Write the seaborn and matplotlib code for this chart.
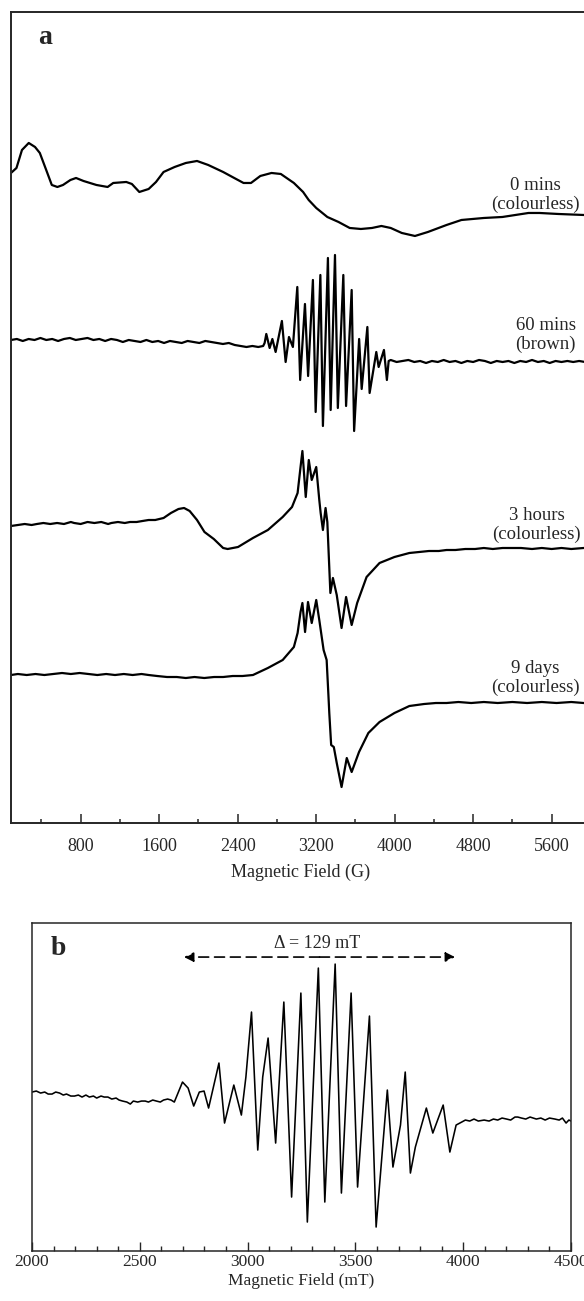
import matplotlib
matplotlib.use("Agg")
import matplotlib.pyplot as plt
from matplotlib.ticker import MultipleLocator
import pandas as pd
import seaborn as sns

# ---- panel a : EPR spectra (field in G, signal in arbitrary units) ----
trace_0min = [(90, 12), (146, 17), (202, 35), (271, 42), (335, 38), (384, 32), (449, 15),
              (506, 0), (563, -2), (620, 0), (696, 5), (753, 7), (829, 4), (961, 0),
              (1075, -2), (1132, 2), (1265, 3), (1322, 1), (1398, -7), (1493, -4),
              (1568, 3), (1645, 13), (1758, 18), (1872, 22), (1986, 24), (2100, 20),
              (2252, 13), (2365, 7), (2460, 2), (2536, 2), (2631, 9), (2745, 12),
              (2840, 11), (2973, 2), (3067, -7), (3124, -15), (3201, -23), (3314, -32),
              (3428, -37), (3542, -43), (3656, -44), (3769, -43), (3865, -41), (3960, -43),
              (4073, -48), (4207, -51), (4339, -47), (4529, -40), (4681, -35), (4909, -33),
              (5098, -32), (5364, -28), (5477, -28), (5668, -29), (5926, -30), (6000, -30)]

trace_60min = [(90, 10), (150, 11), (210, 9), (270, 11), (330, 10), (390, 12), (450, 10),
               (510, 11), (570, 9), (630, 11), (690, 12), (750, 10), (810, 11), (870, 12),
               (930, 10), (990, 11), (1050, 9), (1110, 11), (1170, 10), (1230, 8), (1290, 10),
               (1350, 9), (1410, 8), (1470, 10), (1530, 8), (1590, 9), (1650, 7), (1710, 9),
               (1770, 8), (1830, 7), (1890, 9), (1950, 8), (2010, 7), (2070, 9), (2130, 8),
               (2190, 7), (2250, 6), (2310, 7), (2370, 5), (2430, 4), (2490, 3), (2550, 4),
               (2610, 3), (2660, 4),
               (2675, 7), (2692, 16), (2726, 2), (2754, 11), (2787, -2), (2851, 29),
               (2889, -12), (2923, 13), (2963, 3), (3008, 63), (3037, -30), (3086, 46),
               (3118, -26), (3167, 70), (3195, -62), (3243, 75), (3269, -76), (3320, 92),
               (3348, -60), (3392, 95), (3421, -58), (3477, 75), (3505, -56), (3562, 60),
               (3587, -81), (3638, 11), (3664, -39), (3722, 23), (3745, -43), (3813, -2),
               (3837, -17), (3891, 0), (3921, -30), (3939, -11),
               (3960, -10), (4020, -12), (4080, -11), (4140, -10), (4200, -12), (4260, -11),
               (4320, -13), (4380, -11), (4440, -12), (4500, -10), (4560, -12), (4620, -11),
               (4680, -13), (4740, -11), (4800, -12), (4860, -10), (4920, -11), (4980, -13),
               (5040, -11), (5100, -12), (5160, -11), (5220, -13), (5280, -11), (5340, -12),
               (5400, -10), (5460, -12), (5520, -11), (5580, -13), (5640, -11), (5700, -12),
               (5760, -11), (5820, -12), (5880, -11), (5940, -12), (6000, -11)]

trace_3h = [(90, -2), (160, -1), (230, 0), (300, -1), (354, 0), (420, 1), (490, 0), (560, 1),
            (630, 0), (700, 2), (734, 1), (800, 0), (870, 2), (940, 1), (1010, 2), (1080, 0),
            (1113, 1), (1180, 2), (1250, 1), (1303, 2), (1370, 2), (1430, 3), (1493, 4),
            (1560, 4), (1645, 6), (1720, 11), (1797, 15), (1854, 16), (1911, 13), (1986, 4),
            (2062, -8), (2157, -15), (2252, -24), (2298, -25), (2404, -23), (2556, -14),
            (2708, -6), (2859, 7), (2954, 17), (3011, 31), (3041, 57), (3060, 73), (3094, 27),
            (3125, 64), (3155, 44), (3201, 57), (3232, 24), (3246, 11), (3269, -6), (3296, 16),
            (3314, 2), (3345, -69), (3371, -54), (3410, -71), (3459, -104), (3505, -73),
            (3562, -101), (3618, -79), (3714, -53), (3846, -39), (3998, -33), (4150, -29),
            (4250, -28), (4350, -27), (4450, -27), (4529, -26), (4620, -26), (4720, -25),
            (4820, -25), (4909, -24), (5000, -25), (5100, -24), (5200, -24), (5288, -24),
            (5400, -25), (5500, -24), (5600, -25), (5700, -24), (5800, -25), (5926, -24),
            (6000, -24)]

trace_9d = [(90, 0), (160, 1), (250, 0), (340, 1), (430, 0), (520, 1), (610, 2), (700, 1),
            (790, 2), (880, 1), (970, 0), (1060, 1), (1150, 0), (1240, 1), (1330, 0), (1420, 1),
            (1493, 0), (1580, -1), (1680, -2), (1780, -2), (1872, -3), (1960, -2), (2060, -3),
            (2160, -2), (2252, -2), (2350, -1), (2450, -1), (2556, 0), (2708, 7), (2859, 15),
            (2973, 28), (3011, 42), (3041, 63), (3060, 72), (3087, 43), (3117, 73), (3155, 52),
            (3201, 75), (3232, 55), (3276, 25), (3307, 15), (3325, -20), (3334, -38),
            (3353, -70), (3380, -72), (3410, -88), (3459, -112), (3512, -83), (3562, -97),
            (3637, -77), (3732, -58), (3846, -47), (3998, -38), (4150, -31), (4300, -29),
            (4420, -28), (4529, -28), (4650, -27), (4780, -28), (4909, -27), (5050, -28),
            (5200, -27), (5350, -28), (5500, -27), (5650, -28), (5800, -27), (5926, -28),
            (6000, -28)]

labels_a = ["0 mins\n(colourless)", "60 mins\n(brown)",
            "3 hours\n(colourless)", "9 days\n(colourless)"]

# ---- panel b : expanded 60 min spectrum (field in mT) ----
trace_b = [(2000, 8), (2020, 9), (2040, 7), (2059, 8), (2075, 6), (2093, 6), (2110, 8),
           (2128, 7), (2145, 5), (2160, 6), (2180, 4), (2197, 4), (2215, 5), (2232, 3),
           (2250, 5), (2266, 3), (2285, 4), (2300, 2), (2320, 4), (2335, 3), (2352, 3),
           (2370, 1), (2390, 2), (2404, 0), (2420, -1), (2440, -2), (2456, -4), (2470, -1),
           (2490, -2), (2508, -1), (2525, -1), (2540, -2), (2560, 0), (2577, -1), (2595, -2),
           (2610, 0), (2629, 1), (2645, 0), (2660, -2),
           (2698, 18), (2724, 12), (2750, -6), (2776, 8), (2798, 9), (2819, -8), (2867, 37),
           (2893, -23), (2936, 15), (2971, -15), (2992, 23), (3018, 88), (3047, -50),
           (3070, 23), (3095, 62), (3130, -43), (3168, 98), (3204, -97), (3247, 107),
           (3277, -122), (3328, 132), (3358, -102), (3406, 136), (3435, -93), (3480, 107),
           (3510, -87), (3565, 84), (3596, -127), (3648, 10), (3674, -67), (3709, -25),
           (3731, 28), (3755, -73), (3778, -47), (3829, -8), (3859, -33), (3907, -5),
           (3938, -52), (3967, -25),
           (3993, -22), (4010, -20), (4030, -21), (4050, -19), (4070, -21), (4097, -20),
           (4120, -21), (4140, -19), (4160, -20), (4180, -18), (4201, -19), (4220, -20),
           (4240, -17), (4253, -17), (4270, -18), (4290, -19), (4310, -17), (4339, -19),
           (4360, -18), (4380, -20), (4400, -18), (4425, -19), (4445, -20), (4460, -18),
           (4477, -23), (4490, -20), (4500, -21)]

delta_span = [2705, 3962]

sns.set_style("ticks")
plt.rcParams['font.family'] = ['Liberation Serif', 'DejaVu Serif']

fig = plt.figure(figsize=(5.84, 13.01), dpi=100)
ax_a = fig.add_axes([0.0188, 0.3674, 0.993, 0.6234])
ax_b = fig.add_axes([0.0548, 0.0384, 0.923, 0.2521])

# stacked spectra, each shifted up by its own offset
offsets = [638, 473, 299, 148]
label_y = [628, 488, 298, 145]
label_x = [5437, 5539, 5450, 5437]
for tr, off, lab, lx, ly in zip([trace_0min, trace_60min, trace_3h, trace_9d],
                                offsets, labels_a, label_x, label_y):
    df = pd.DataFrame(tr, columns=['field', 'signal'])
    df['y'] = df['signal'] + off
    sns.lineplot(data=df, x='field', y='y', color='black', lw=1.6,
                 estimator=None, sort=False, ax=ax_a)
    ax_a.text(lx, ly, lab, ha='center', va='center', fontsize=13.5, linespacing=1.15)

ax_a.set_xlim(90, 6000)
ax_a.set_ylim(0, 811)
ax_a.set_yticks([])
ax_a.set_ylabel('')
ax_a.xaxis.set_major_locator(MultipleLocator(800))
ax_a.xaxis.set_minor_locator(MultipleLocator(400))
ax_a.tick_params(axis='x', which='major', direction='in', length=6.5, width=1.1,
                 labelsize=13, pad=11)
ax_a.tick_params(axis='x', which='minor', direction='in', length=3, width=1.1)
ax_a.set_xlabel('Magnetic Field (G)', fontsize=13, labelpad=6)
for s in ax_a.spines.values():
    s.set_linewidth(1.4)
ax_a.text(0.0466, 0.9605, 'a', transform=ax_a.transAxes, fontsize=20,
          fontweight='bold', va='baseline', ha='left')

# panel b
dfb = pd.DataFrame(trace_b, columns=['field', 'signal'])
dfb['y'] = dfb['signal'] + 151
sns.lineplot(data=dfb, x='field', y='y', color='black', lw=1.15,
             estimator=None, sort=False, ax=ax_b)
ax_b.set_xlim(2000, 4500)
ax_b.set_ylim(0, 328)
ax_b.set_yticks([])
ax_b.set_ylabel('')
ax_b.xaxis.set_major_locator(MultipleLocator(500))
ax_b.xaxis.set_minor_locator(MultipleLocator(100))
ax_b.tick_params(axis='x', which='major', direction='in', length=6.5, width=1.0,
                 labelsize=12.5, pad=2)
ax_b.tick_params(axis='x', which='minor', direction='in', length=3.5, width=1.0)
ax_b.set_xlabel('Magnetic Field (mT)', fontsize=12.5, labelpad=2)
for s in ax_b.spines.values():
    s.set_linewidth(1.1)
ax_b.text(0.035, 0.902, 'b', transform=ax_b.transAxes, fontsize=20,
          fontweight='bold', va='baseline', ha='left')

mid = sum(delta_span) / 2
ax_b.text(mid - 12, 303, 'Δ = 129 mT', ha='center', va='baseline', fontsize=13)
for end in delta_span:
    ax_b.annotate('', xy=(end, 294), xytext=(mid, 294),
                  arrowprops=dict(arrowstyle='-|>', color='black', lw=1.2,
                                  linestyle=(0, (6, 3.5)), mutation_scale=14,
                                  shrinkA=0, shrinkB=0))

fig.savefig('out.png', dpi=100)
